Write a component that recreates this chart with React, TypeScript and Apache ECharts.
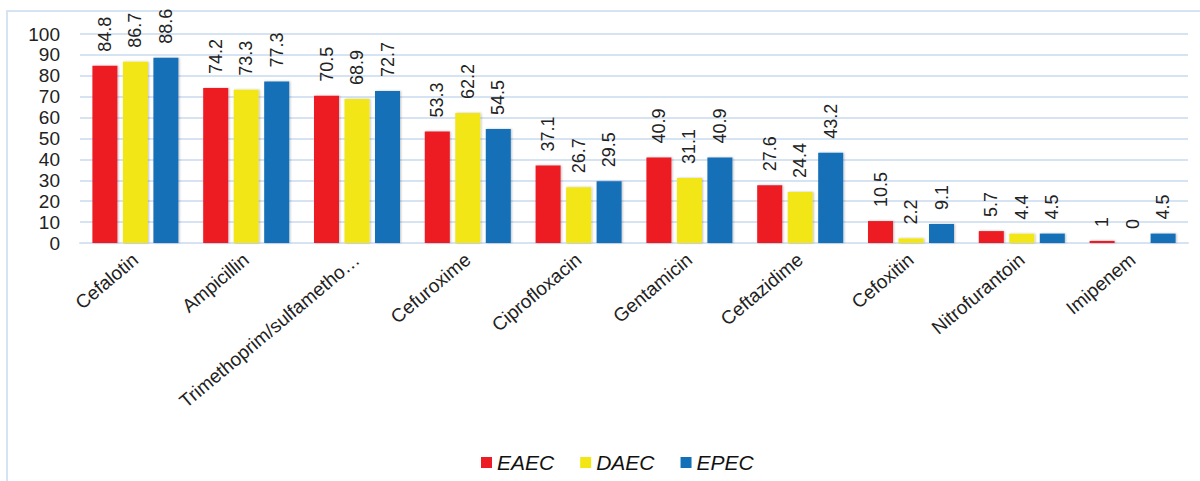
import React, { useEffect, useRef } from "react";
import * as echarts from "echarts";

const categories = [
  "Cefalotin",
  "Ampicillin",
  "Trimethoprim/sulfamethoxazole",
  "Cefuroxime",
  "Ciprofloxacin",
  "Gentamicin",
  "Ceftazidime",
  "Cefoxitin",
  "Nitrofurantoin",
  "Imipenem",
];

const eaec = [84.8, 74.2, 70.5, 53.3, 37.1, 40.9, 27.6, 10.5, 5.7, 1];
const daec = [86.7, 73.3, 68.9, 62.2, 26.7, 31.1, 24.4, 2.2, 4.4, 0];
const epec = [88.6, 77.3, 72.7, 54.5, 29.5, 40.9, 43.2, 9.1, 4.5, 4.5];

const seriesNames = ["EAEC", "DAEC", "EPEC"];
const seriesColors = ["#ED1C24", "#F2E614", "#1270B8"];
const yTicks = [0, 10, 20, 30, 40, 50, 60, 70, 80, 90, 100];

const FONT = "'Liberation Sans', Arial, sans-serif";
const GRID_COLOR = "#d6e3f3";

export default function App() {
  const ref = useRef<HTMLDivElement>(null);

  useEffect(() => {
    if (!ref.current) return;
    const chart = echarts.init(ref.current, undefined, { renderer: "svg" });
    const values = [eaec, daec, epec];

    chart.setOption({
      animation: false,
      backgroundColor: "#ffffff",
      graphic: [
        {
          type: "rect",
          shape: { x: 7, y: 11, width: 1220, height: 500 },
          style: { fill: "none", stroke: GRID_COLOR, lineWidth: 2 },
          silent: true,
          z: -1,
        },
      ],
      grid: { left: 80, right: 12, top: 34, bottom: 238 },
      legend: {
        data: seriesNames,
        top: 447,
        left: 476,
        itemWidth: 11,
        itemHeight: 11,
        itemGap: 26,
        icon: "rect",
        textStyle: {
          fontFamily: FONT,
          fontSize: 21,
          fontStyle: "italic",
          fontWeight: "normal",
          color: "#111",
        },
      },
      xAxis: {
        type: "category",
        data: categories,
        axisLine: { show: true, lineStyle: { color: GRID_COLOR, width: 2 } },
        axisTick: { show: false },
        axisLabel: {
          rotate: 40,
          margin: 14,
          interval: 0,
          fontFamily: FONT,
          fontSize: 19,
          color: "#222",
          formatter: (s: string) => (s.length > 23 ? s.slice(0, 23) + "…" : s),
        },
      },
      yAxis: {
        type: "value",
        min: yTicks[0],
        max: yTicks[yTicks.length - 1],
        interval: 10,
        axisLine: { show: false },
        axisTick: { show: false },
        axisLabel: {
          margin: 20,
          fontFamily: FONT,
          fontSize: 19,
          color: "#222",
        },
        splitLine: { lineStyle: { color: GRID_COLOR, width: 2 } },
      },
      series: seriesNames.map((name, i) => ({
        name,
        type: "bar",
        data: values[i],
        barWidth: 25,
        barGap: "22%",
        itemStyle: {
          color: seriesColors[i],
          shadowColor: "rgba(0,0,0,0.25)",
          shadowBlur: 2,
          shadowOffsetX: 1,
          shadowOffsetY: 0,
        },
        label: {
          show: true,
          position: "top",
          rotate: 90,
          align: "left",
          verticalAlign: "middle",
          distance: 14,
          fontFamily: FONT,
          fontSize: 18,
          color: "#222",
        },
      })),
    });

    return () => chart.dispose();
  }, []);

  return (
    <div
      ref={ref}
      style={{ position: "fixed", left: 0, top: 0, width: 1200, height: 481 }}
    />
  );
}
